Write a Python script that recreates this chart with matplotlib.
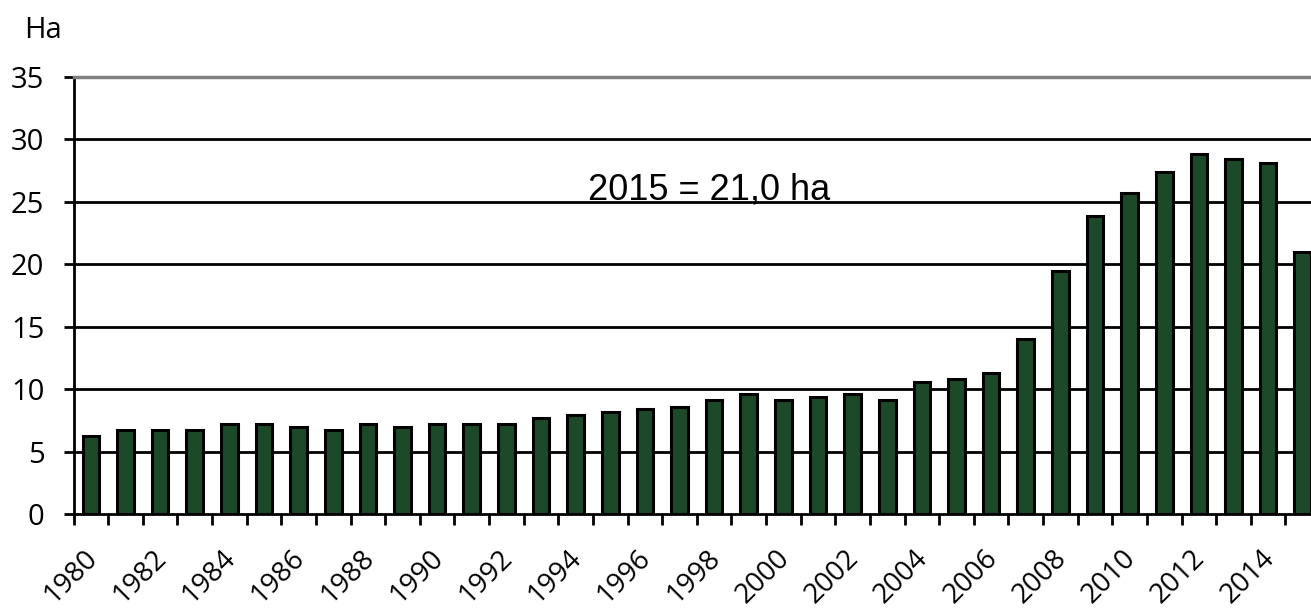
import matplotlib
matplotlib.use("Agg")
import matplotlib.pyplot as plt
import matplotlib.transforms as mtransforms
import numpy as np

years = list(range(1980, 2016))
values = [6.25, 6.7, 6.7, 6.7, 7.2, 7.2, 7.0, 6.7, 7.2, 7.0, 7.2, 7.2, 7.2,
          7.7, 7.9, 8.2, 8.4, 8.6, 9.1, 9.6, 9.1, 9.4, 9.6, 9.1,
          10.6, 10.85, 11.3, 14.0, 19.5, 23.9, 25.7, 27.4, 28.8, 28.4, 28.1, 21.0]
yticks = [0, 5, 10, 15, 20, 25, 30, 35]
annotation = "2015 = 21,0 ha"

plt.rcParams['font.family'] = ['Open Sans', 'DejaVu Sans']

fig = plt.figure(figsize=(13.11, 6.10), dpi=100)
ax = fig.add_axes([0.0561, 0.1574, 0.9508, 0.7164])

x = np.arange(len(years))
ax.bar(x, values, width=0.48, color='#1c4a28', edgecolor='black', linewidth=2.2, zorder=3)

ax.set_xlim(-0.5, len(years) - 0.5)
ax.set_ylim(0, 35)

# gridlines (black), except top which is grey
for yv in yticks[1:-1]:
    ax.axhline(yv, color='black', linewidth=2, zorder=1)

ax.set_yticks(yticks)
ax.set_yticklabels([str(v) for v in yticks], fontsize=21)
ax.tick_params(axis='y', direction='out', length=7, width=2, pad=14)

ax.set_xticks(x[::2])
ax.set_xticklabels([str(y) for y in years[::2]], fontsize=20, rotation=45,
                   ha='right', va='top')
ax.tick_params(axis='x', which='major', length=0, pad=21.5)
offset = mtransforms.ScaledTranslation(12 / 100, 0, fig.dpi_scale_trans)
for lab in ax.get_xticklabels():
    lab.set_transform(lab.get_transform() + offset)
ax.set_xticks(np.arange(-0.5, len(years) + 0.5, 1.0), minor=True)
ax.tick_params(axis='x', which='minor', direction='out', length=8, width=2)

for s in ['left', 'bottom']:
    ax.spines[s].set_color('black')
    ax.spines[s].set_linewidth(2)
ax.spines['right'].set_visible(False)
ax.spines['top'].set_color('#808080')
ax.spines['top'].set_linewidth(2.5)

ax.text(17.85, 25.2, annotation, fontsize=26, family='Liberation Sans',
        ha='center', va='baseline', zorder=4)

fig.text(24 / 1311, 1 - 38 / 610, "Ha", fontsize=21, ha='left', va='baseline')

fig.savefig("out.png", dpi=100)
